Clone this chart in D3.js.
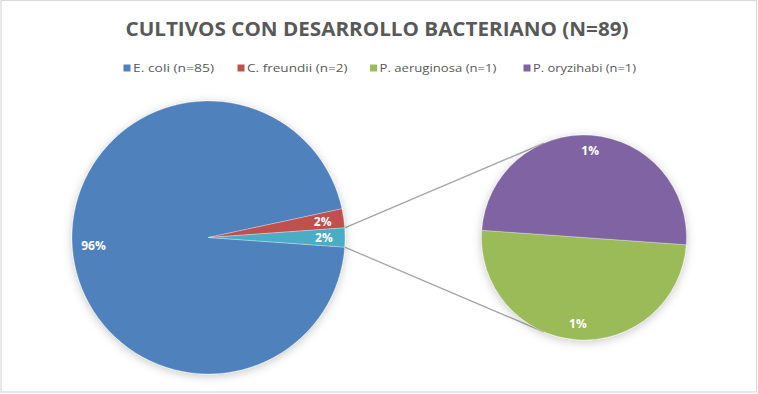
<!DOCTYPE html>
<html>
<head>
<meta charset="utf-8">
<script src="https://cdn.jsdelivr.net/npm/d3@7"></script>
<style>
  html, body { margin: 0; padding: 0; background: #fff; }
  svg { display: block; }
</style>
</head>
<body>
<svg id="chart" width="758" height="394"></svg>
<script>
// ---- data ----
const title = "CULTIVOS CON DESARROLLO BACTERIANO (N=89)";
const categories = ["E. coli (n=85)", "C. freundii (n=2)", "P. aeruginosa (n=1)", "P. oryzihabi (n=1)"];
const counts = [85, 2, 1, 1];
const colors = ["#4F81BD", "#C0504D", "#9BBB59", "#8064A2"];
const otherColor = "#4BACC6";
const secondaryIdx = [2, 3]; // categories split into the secondary pie

// ---- layout ----
const W = 758, H = 394;
const svg = d3.select("#chart");
const total = d3.sum(counts);
const pct = d3.format(".0%");

const defs = svg.append("defs");
const f = defs.append("filter").attr("id", "shadow")
  .attr("x", "-20%").attr("y", "-20%").attr("width", "140%").attr("height", "140%");
f.append("feDropShadow").attr("dx", 0).attr("dy", 2).attr("stdDeviation", 5)
  .attr("flood-color", "#000").attr("flood-opacity", 0.22);

// chart border
svg.append("rect").attr("x", 1).attr("y", 0.5).attr("width", 755.5).attr("height", 391.5)
  .attr("fill", "#fff").attr("stroke", "#d9d9d9").attr("stroke-width", 1.2);

// title
svg.append("text").attr("x", 377).attr("y", 36)
  .attr("text-anchor", "middle")
  .attr("font-family", "'Open Sans', sans-serif").attr("font-weight", "bold")
  .attr("font-size", 20).attr("fill", "#595959")
  .attr("textLength", 503).attr("lengthAdjust", "spacingAndGlyphs")
  .text(title);

// legend
const legendX = [123.5, 237.5, 370, 523.5];
const legendW = [81, 100.5, 117, 103];
const lg = svg.append("g").attr("font-family", "'Open Sans', sans-serif")
  .attr("font-size", 11.5).attr("fill", "#595959");
categories.forEach((c, i) => {
  lg.append("rect").attr("x", legendX[i]).attr("y", 64.5).attr("width", 7).attr("height", 7)
    .attr("fill", colors[i]);
  lg.append("text").attr("x", legendX[i] + 9.5).attr("y", 72.3)
    .attr("textLength", legendW[i]).attr("lengthAdjust", "spacingAndGlyphs")
    .text(c);
});

// main pie data: first categories + "Other"
const mainData = counts.map((v, i) => ({ v, color: colors[i], i }))
  .filter(d => !secondaryIdx.includes(d.i));
const otherVal = d3.sum(secondaryIdx, i => counts[i]);
mainData.push({ v: otherVal, color: otherColor, i: -1 });
const secData = secondaryIdx.map(i => ({ v: counts[i], color: colors[i], i }));

const halfOther = (otherVal / total) * Math.PI; // half angle of the "Other" slice
const start = Math.PI / 2 + halfOther;

const mainC = { x: 208.5, y: 237.5, r: 136.5 };
const secC = { x: 584, y: 237.5, r: 102.5 };

const mainPie = d3.pie().value(d => d.v).sort(null)
  .startAngle(start).endAngle(start + 2 * Math.PI);
const secPie = d3.pie().value(d => d.v).sort(null)
  .startAngle(start).endAngle(start + 2 * Math.PI);

const mainArcs = mainPie(mainData);
const secArcs = secPie(secData);

// connector lines (tangents from "Other" slice edge points to secondary circle)
const otherArc = mainArcs[mainArcs.length - 1];
function edgePt(a) {
  return [mainC.x + mainC.r * Math.sin(a), mainC.y - mainC.r * Math.cos(a)];
}
function tangent(P, upper) {
  const dx = P[0] - secC.x, dy = P[1] - secC.y;
  const d = Math.hypot(dx, dy);
  const th = Math.atan2(dy, dx), al = Math.acos(secC.r / d);
  const t1 = [secC.x + secC.r * Math.cos(th + al), secC.y + secC.r * Math.sin(th + al)];
  const t2 = [secC.x + secC.r * Math.cos(th - al), secC.y + secC.r * Math.sin(th - al)];
  return upper ? (t1[1] < t2[1] ? t1 : t2) : (t1[1] > t2[1] ? t1 : t2);
}
const pTop = edgePt(otherArc.startAngle), pBot = edgePt(otherArc.endAngle);
[[pTop, tangent(pTop, true)], [pBot, tangent(pBot, false)]].forEach(([a, b]) => {
  svg.append("line").attr("x1", a[0]).attr("y1", a[1]).attr("x2", b[0]).attr("y2", b[1])
    .attr("stroke", "#a5a5a5").attr("stroke-width", 1.3);
});

function drawPie(arcs, C) {
  const arc = d3.arc().innerRadius(0).outerRadius(C.r);
  const lab = d3.arc().innerRadius(C.r * 0.845).outerRadius(C.r * 0.845);
  const g = svg.append("g").attr("transform", `translate(${C.x},${C.y})`);
  g.append("g").attr("filter", "url(#shadow)")
    .selectAll("path").data(arcs).join("path")
    .attr("d", arc).attr("fill", d => d.data.color)
    .attr("stroke", "#fff").attr("stroke-width", 0.3);
  g.selectAll("text").data(arcs).join("text")
    .attr("transform", d => `translate(${lab.centroid(d)})`)
    .attr("text-anchor", "middle").attr("dy", "0.36em")
    .attr("font-family", "'Open Sans', sans-serif").attr("font-weight", "bold")
    .attr("font-size", 12).attr("fill", "#fff")
    .text(d => pct(d.data.v / total));
}
drawPie(mainArcs, mainC);
drawPie(secArcs, secC);
</script>
</body>
</html>
